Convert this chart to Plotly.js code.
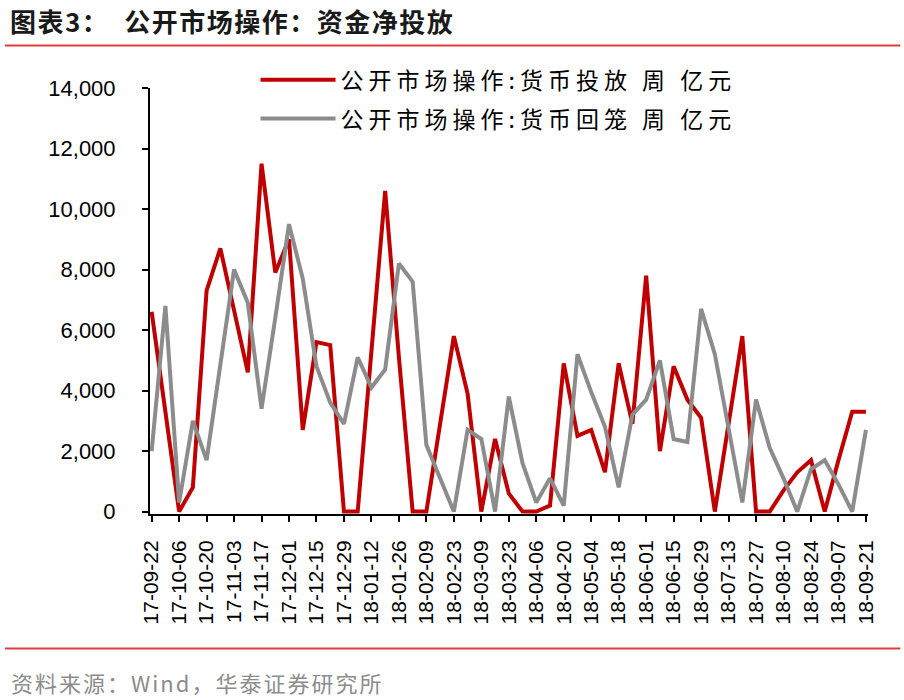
<!DOCTYPE html>
<html>
<head>
<meta charset="utf-8">
<script src="https://cdn.plot.ly/plotly-3.0.1.min.js"></script>
<style>
  html, body { margin: 0; padding: 0; background: #fff; }
  #chart { width: 904px; height: 700px; }
</style>
</head>
<body>
<div id="chart"></div>
<script>

// 주간 날짜 (금요일 기준)
const week_labels = [
    '17-09-22', '17-09-29', '17-10-06', '17-10-13', '17-10-20', '17-10-27',
    '17-11-03', '17-11-10', '17-11-17', '17-11-24', '17-12-01', '17-12-08',
    '17-12-15', '17-12-22', '17-12-29', '18-01-05', '18-01-12', '18-01-19',
    '18-01-26', '18-02-02', '18-02-09', '18-02-16', '18-02-23', '18-03-02',
    '18-03-09', '18-03-16', '18-03-23', '18-03-30', '18-04-06', '18-04-13',
    '18-04-20', '18-04-27', '18-05-04', '18-05-11', '18-05-18', '18-05-25',
    '18-06-01', '18-06-08', '18-06-15', '18-06-22', '18-06-29', '18-07-06',
    '18-07-13', '18-07-20', '18-07-27', '18-08-03', '18-08-10', '18-08-17',
    '18-08-24', '18-08-31', '18-09-07', '18-09-14', '18-09-21'
];

// 货币投放 (亿元)
const injection = [
    6600, 3300, 0, 800, 7300, 8700, 6700, 4600, 11500, 7900,
    9000, 2700, 5600, 5500, 0, 0, 5300, 10600, 5100, 0,
    0, 2900, 5800, 3900, 0, 2400, 600, 0, 0, 200,
    4900, 2500, 2700, 1300, 4900, 2900, 7800, 2000, 4800, 3700,
    3100, 0, 2900, 5800, 0, 0, 700, 1300, 1700, 0,
    1700, 3300, 3300
];

// 货币回笼 (亿元)
const withdrawal = [
    2000, 6800, 300, 3000, 1700, 4850, 8000, 6900, 3400, 6400,
    9500, 7700, 4800, 3600, 2900, 5100, 4100, 4700, 8200, 7600,
    2200, 1100, 0, 2700, 2400, 0, 3800, 1600, 300, 1100,
    200, 5200, 3950, 2800, 800, 3200, 3700, 5000, 2400, 2300,
    6700, 5200, 2800, 300, 3700, 2100, 1100, 0, 1400, 1700,
    900, 0, 2700
];

const series_names = [
    '公开市场操作:货币投放 周 亿元',
    '公开市场操作:货币回笼 周 亿元'
];
const y_ticks = [0, 2000, 4000, 6000, 8000, 10000, 12000, 14000];

const chart_title = '图表3：  公开市场操作：资金净投放';
const source_note = '资料来源：Wind，华泰证券研究所';

const RED = '#c00000';
const GRAY = '#8c8c8c';
const ACCENT = '#e03c3c';
const CJK = '"Noto Sans CJK SC", "Noto Sans", sans-serif';
const NUM = '"Liberation Sans", Arial, sans-serif';

// 원본처럼 글자 간격을 넓힘 (inline style 이어야 plotly가 폭을 제대로 잼)
function spaced(text, px) {
    return `<span style="letter-spacing:${px}px">${text}</span>`;
}

function makeLine(values, name, color, group) {
    return {
        type: 'scatter',
        mode: 'lines',
        x: week_labels,
        y: values,
        name: spaced(name, 5),
        legendgroup: group,
        line: { color: color, width: 4, shape: 'linear' },
        hoverinfo: 'skip'
    };
}

const traces = [
    makeLine(injection, series_names[0], RED, 'in'),
    makeLine(withdrawal, series_names[1], GRAY, 'out')
];

const layout = {
    width: 904,
    height: 700,
    paper_bgcolor: '#ffffff',
    plot_bgcolor: '#ffffff',
    margin: { l: 150, r: 36, t: 88, b: 186, pad: 0 },
    showlegend: true,
    title: {
        text: spaced(chart_title, 1.5),
        xref: 'container', yref: 'container',
        x: 10 / 904, xanchor: 'left',
        y: 1 - 23 / 700, yanchor: 'middle',
        font: { family: CJK, size: 26, color: '#1a1a1a', weight: 'bold' }
    },
    xaxis: {
        type: 'category',
        range: [-0.12, 52.15],
        tickmode: 'linear',
        tick0: 0,
        dtick: 2,
        tickangle: -90,
        ticks: 'outside',
        ticklen: 6,
        tickwidth: 2,
        tickcolor: '#000',
        ticklabelstandoff: 10,
        showline: true,
        linecolor: '#000',
        linewidth: 2,
        showgrid: false,
        zeroline: false,
        tickfont: { family: NUM, size: 21, color: '#000' },
        fixedrange: true
    },
    yaxis: {
        range: [-80, 14000],
        tickvals: y_ticks,
        tickformat: ',d',
        ticks: 'outside',
        ticklen: 6,
        tickwidth: 2,
        tickcolor: '#000',
        ticklabelstandoff: 22,
        showline: true,
        linecolor: '#000',
        linewidth: 2,
        showgrid: false,
        zeroline: false,
        tickfont: { family: NUM, size: 22, color: '#000' },
        fixedrange: true
    },
    legend: {
        x: 0.147,
        y: 1.07,
        xanchor: 'left',
        yanchor: 'top',
        bgcolor: 'rgba(0,0,0,0)',
        borderwidth: 0,
        itemwidth: 75,
        tracegroupgap: 6,
        font: { family: CJK, size: 23, color: '#000' }
    },
    // 제목 아래와 출처 위의 빨간 구분선
    shapes: [
        { type: 'line', xref: 'paper', yref: 'paper', x0: -0.202, x1: 1.045, y0: 1.1, y1: 1.1,
          line: { color: ACCENT, width: 2 } },
        { type: 'line', xref: 'paper', yref: 'paper', x0: -0.202, x1: 1.045, y0: -0.316, y1: -0.316,
          line: { color: ACCENT, width: 2 } }
    ],
    annotations: [
        {
            text: spaced(source_note, 2),
            xref: 'paper', yref: 'paper',
            x: -0.197, xanchor: 'left',
            y: -0.395, yanchor: 'middle',
            showarrow: false,
            font: { family: CJK, size: 22, color: '#8c8c8c' }
        }
    ]
};

Plotly.newPlot('chart', traces, layout, { displayModeBar: false, staticPlot: true });

</script>
</body>
</html>
